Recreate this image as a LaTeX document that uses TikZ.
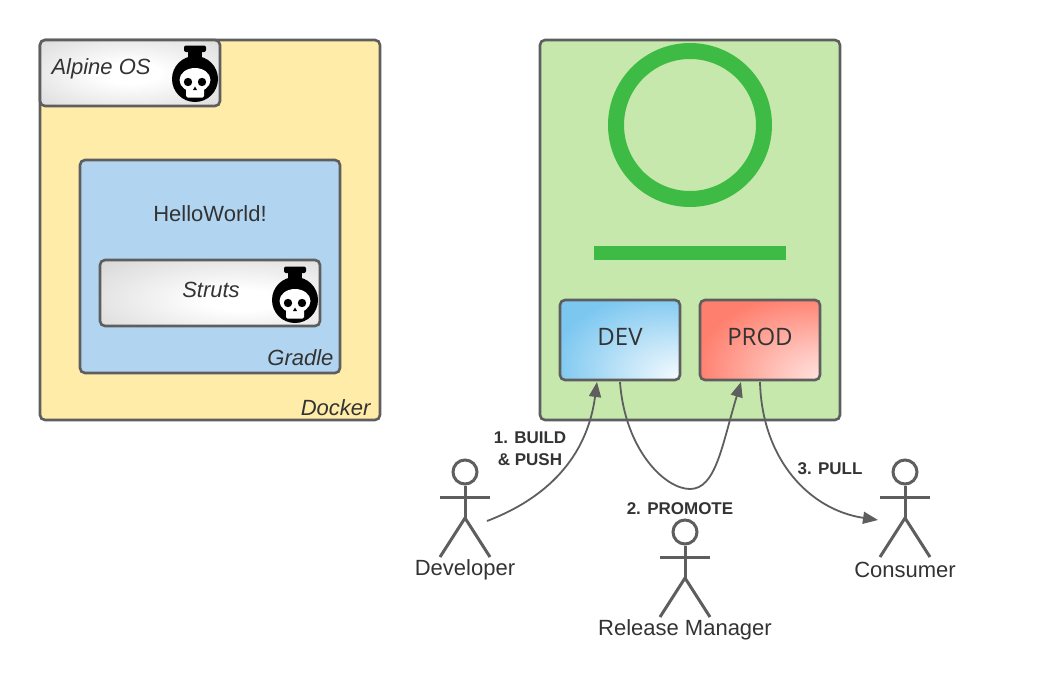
\documentclass[tikz,border=0pt]{standalone}
\usepackage{fontspec}
\setmainfont{Liberation Sans}
\newfontfamily\envfont{Open Sans}
\usetikzlibrary{arrows.meta}

\definecolor{linegray}{HTML}{5E5E5E}
\definecolor{textgray}{HTML}{333333}
\definecolor{dockerfill}{HTML}{FFECA9}
\definecolor{gradlefill}{HTML}{B1D5F0}
\definecolor{serverfill}{HTML}{C7E8AC}
\definecolor{logogreen}{HTML}{3DBB45}
\definecolor{devblue}{HTML}{7CC7F0}
\definecolor{prodred}{HTML}{FF7F6E}
\definecolor{softgray}{HTML}{D4D4D4}

\pgfdeclareradialshading{devglow}{\pgfpoint{29bp}{-27bp}}{color(0bp)=(white); color(20bp)=(devblue!45!white); color(44bp)=(devblue); color(100bp)=(devblue)}
\pgfdeclareradialshading{prodglow}{\pgfpoint{32bp}{-29bp}}{color(0bp)=(prodred!12!white); color(20bp)=(prodred!50!white); color(44bp)=(prodred); color(100bp)=(prodred)}
\pgfdeclareradialshading{alpineglow}{\pgfpoint{0bp}{0bp}}{color(0bp)=(white); color(8bp)=(white); color(42bp)=(softgray); color(100bp)=(softgray)}
\pgfdeclareradialshading{strutsglow}{\pgfpoint{8bp}{-6bp}}{color(0bp)=(white); color(8bp)=(white); color(44bp)=(softgray); color(100bp)=(softgray)}

\tikzset{
  every box/.style={draw=linegray, line width=2.6pt, rounded corners=5pt, inner sep=0pt},
  every label text/.style={text=textgray, font=\fontsize{22}{26}\selectfont},
  every tag text/.style={text=textgray, font=\fontsize{22}{26}\selectfont\itshape},
  every step text/.style={text=textgray, align=center, font=\fontsize{17}{22}\selectfont\bfseries},
  every env text/.style={text=textgray, font=\envfont\fontsize{24}{28}\selectfont},
  every flow/.style={draw=linegray, line width=1.8pt, -{Triangle[length=15pt,width=12pt]}},
  actor line/.style={draw=linegray, line width=3pt},
  poison/.pic={
    \fill [black, rounded corners=2pt] (-11,-33.5) rectangle (11,-27);
    \fill [black] (-7,-28) rectangle (7,-18);
    \fill [black] (0,0) circle (23);
    \fill [white] (0,1) ellipse (15.5 and 12);
    \fill [white, rounded corners=1.5pt] (-9,6) rectangle (9,18.5);
    \fill [black] (-7,3) circle (4.2);
    \fill [black] (7,3) circle (4.2);
    \fill [black] (0,7.5) -- (-2,11) -- (2,11) -- cycle;
  }
}

\begin{document}
\begin{tikzpicture}[x=1pt, y=-1pt]
\useasboundingbox (0,0) rectangle (1050,680);

% left side
\node [every box, fill=dockerfill, minimum width=340pt, minimum height=380pt] (docker) at (210,230) {};
\node [every box, shade, shading=alpineglow, minimum width=180pt, minimum height=66pt] (alpine) at (130,73) {};
\node [every box, fill=gradlefill, minimum width=260pt, minimum height=213pt] (gradle) at (210,266.5) {};
\node [every box, shade, shading=strutsglow, minimum width=220pt, minimum height=66pt] (struts) at (210,293) {};

\pic at (195,79) {poison};
\pic at (295,300) {poison};

\node [every tag text, anchor=west] (alpine-text) at (48,69) {Alpine OS};
\node [every label text] (hello-text) at (210,214) {HelloWorld!};
\node [every tag text] (struts-text) at (211,290) {Struts};
\node [every tag text, anchor=east] (gradle-text) at (337,358) {Gradle};
\node [every tag text, anchor=east] (docker-text) at (374,408) {Docker};

% right side
\node [every box, fill=serverfill, minimum width=300pt, minimum height=380pt] (server) at (690,230) {};
\node [draw=logogreen, line width=16pt, circle, minimum size=148pt, inner sep=0pt] (logo) at (690,125) {};
\node [fill=logogreen, minimum width=192pt, minimum height=14pt, inner sep=0pt] (bar) at (690,253) {};

\node [every box, shade, shading=devglow, minimum width=120pt, minimum height=80pt] (dev) at (620,340) {};
\node [every box, shade, shading=prodglow, minimum width=120pt, minimum height=80pt] (prod) at (760,340) {};
\node [every env text] (dev-text) at (620,337) {DEV};
\node [every env text] (prod-text) at (760,337) {PROD};

% actors
\foreach \m/\x/\y/\l in {developer/465/472/Developer, manager/685/532/Release Manager, consumer/905/472/Consumer} {
  \node [circle, actor line, minimum size=24pt, inner sep=0pt] (\m-head) at (\x,\y) {};
  \coordinate (\m-hip) at (\x,\y+46);
  \draw [actor line] (\m-head) -- (\m-hip);
  \draw [actor line] (\x-25,\y+25) -- (\x+25,\y+25);
  \draw [actor line] (\x-25,\y+85) -- (\m-hip) -- (\x+25,\y+85);
  \node [every label text] (\m-text) at (\x,\y+98) {\l};
}

% connectors
\coordinate (developer-out) at (487,521);
\coordinate (dev-in) at (597,382);
\coordinate (dev-out) at (620,382);
\coordinate (prod-in) at (741,382);
\coordinate (prod-out) at (760,382);
\coordinate (consumer-in) at (878,520);

\draw [every flow] (developer-out) .. controls (555,495) and (588,450) .. (dev-in);
\draw [every flow] (dev-out) .. controls (625,450) and (665,489) .. (690,489)
                          .. controls (716,489) and (722,445) .. (prod-in);
\draw [every flow] (prod-out) .. controls (762,460) and (810,510) .. (consumer-in);

\node [every step text] (build-text) at (530,449) {1. BUILD\\\& PUSH};
\node [every step text] (promote-text) at (680,509) {2. PROMOTE};
\node [every step text] (pull-text) at (830,469) {3. PULL};

\end{tikzpicture}
\end{document}
